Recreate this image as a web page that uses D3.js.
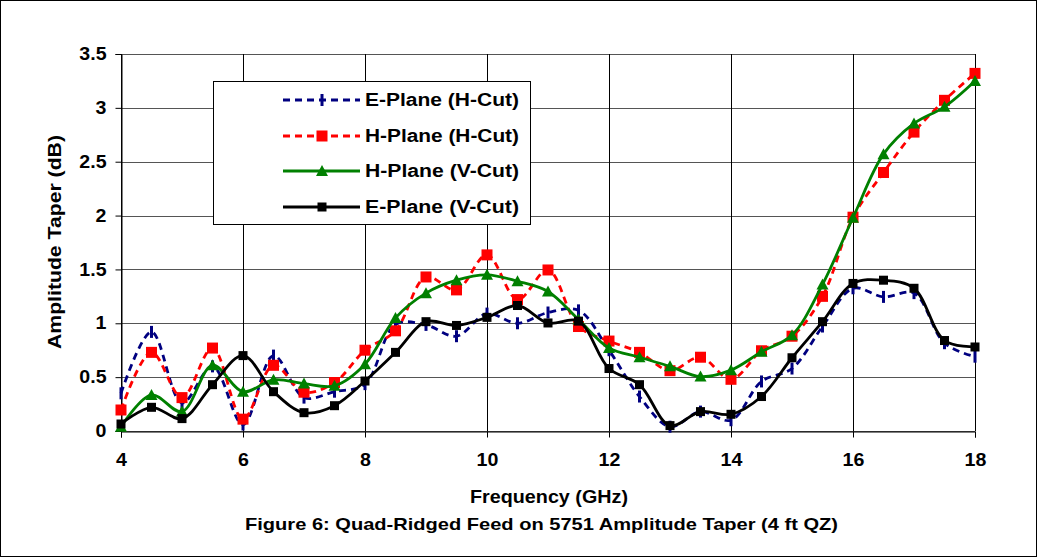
<!DOCTYPE html>
<html><head><meta charset="utf-8">
<script src="https://cdn.jsdelivr.net/npm/d3@7"></script>
<style>
html,body{margin:0;padding:0;background:#fff;}
svg{display:block;font-family:"Liberation Sans",Arial,sans-serif;}
</style></head>
<body><svg id="c" width="1038" height="558"></svg>
<script>
const freqs = [4,4.5,5,5.5,6,6.5,7,7.5,8,8.5,9,9.5,10,10.5,11,11.5,12,12.5,13,13.5,14,14.5,15,15.5,16,16.5,17,17.5,18];
const ePlaneHCut = [0.35,0.92,0.26,0.6,0.06,0.70,0.31,0.365,0.435,0.99,0.985,0.88,1.09,1.0,1.10,1.12,0.75,0.32,0.04,0.18,0.10,0.46,0.58,0.97,1.325,1.245,1.28,0.815,0.69];
const hPlaneHCut = [0.195,0.73,0.31,0.77,0.11,0.61,0.36,0.45,0.75,0.93,1.43,1.31,1.635,1.22,1.495,0.97,0.835,0.73,0.56,0.685,0.48,0.745,0.88,1.25,1.985,2.40,2.775,3.07,3.32];
const hPlaneVCut = [0.04,0.335,0.18,0.61,0.365,0.475,0.44,0.42,0.62,1.05,1.28,1.40,1.45,1.39,1.295,1.035,0.77,0.685,0.60,0.505,0.565,0.735,0.89,1.36,1.98,2.57,2.855,3.01,3.25];
const ePlaneVCut = [0.065,0.22,0.115,0.43,0.70,0.365,0.17,0.235,0.464,0.73,1.015,0.98,1.055,1.165,1.003,1.02,0.58,0.43,0.05,0.18,0.155,0.32,0.68,1.015,1.37,1.40,1.325,0.84,0.78];
const xTicks = [4,6,8,10,12,14,16,18];
const yTicks = [0,0.5,1,1.5,2,2.5,3,3.5];
const seriesNames = ["E-Plane (H-Cut)","H-Plane (H-Cut)","H-Plane (V-Cut)","E-Plane (V-Cut)"];
const xTitle = "Frequency (GHz)";
const yTitle = "Amplitude Taper (dB)";
const caption = "Figure 6: Quad-Ridged Feed on 5751 Amplitude Taper (4 ft QZ)";

const series = [
  {name:seriesNames[0], values:ePlaneHCut, color:"#000080", dash:"7,5", marker:"dash"},
  {name:seriesNames[1], values:hPlaneHCut, color:"#ff0000", dash:"7,5", marker:"bigsquare"},
  {name:seriesNames[2], values:hPlaneVCut, color:"#008000", dash:null, marker:"triangle"},
  {name:seriesNames[3], values:ePlaneVCut, color:"#000000", dash:null, marker:"square"}
];

const svg = d3.select("#c");
const L=121, R=975, T=54, B=431;
const x = d3.scaleLinear().domain([4,18]).range([L,R]);
const y = d3.scaleLinear().domain([0,3.5]).range([B,T]);

function stretch(sel, f){
  sel.each(function(){
    const w = this.getComputedTextLength();
    this.setAttribute("textLength", (w*f).toFixed(1));
    this.setAttribute("lengthAdjust","spacingAndGlyphs");
  });
}
function fitLen(sel, len){
  sel.attr("textLength",len).attr("lengthAdjust","spacingAndGlyphs");
}

// outer frame
svg.append("rect").attr("x",0.5).attr("y",0.5).attr("width",1036).attr("height",556)
  .attr("fill","none").attr("stroke","#000").attr("stroke-width",1);

// horizontal gridlines
svg.append("g").selectAll("line").data(yTicks).join("line")
  .attr("x1",L).attr("x2",R).attr("y1",d=>Math.round(y(d))+0.5).attr("y2",d=>Math.round(y(d))+0.5)
  .attr("stroke","#555").attr("stroke-width",1.2);
// vertical gridlines
svg.append("g").selectAll("line").data(xTicks).join("line")
  .attr("y1",T).attr("y2",B).attr("x1",d=>Math.round(x(d))+0.5).attr("x2",d=>Math.round(x(d))+0.5)
  .attr("stroke","#000").attr("stroke-width",1);

// axes
const yAxis = d3.axisLeft(y).tickValues(yTicks).tickSize(6).tickPadding(9).tickFormat(d=>String(d));
const gy = svg.append("g").attr("transform",`translate(${L+0.5},0)`).call(yAxis);
const xAxis = d3.axisBottom(x).tickValues(xTicks).tickSize(6).tickPadding(16).tickFormat(d=>String(d));
const gx = svg.append("g").attr("transform",`translate(0,${B+0.5})`).call(xAxis);
[gx,gy].forEach(g=>{
  g.select(".domain").attr("stroke","#000").attr("stroke-width",1);
  g.selectAll(".tick line").attr("stroke","#000");
  g.selectAll("text").attr("font-size",17.5).attr("font-weight","bold").attr("fill","#000")
   .attr("font-family","'Liberation Sans',Arial,sans-serif");
  stretch(g.selectAll("text"),1.12);
});

// titles
fitLen(svg.append("text").attr("x",549).attr("y",503).attr("text-anchor","middle")
  .attr("font-size",17.5).attr("font-weight","bold").text(xTitle),158);
fitLen(svg.append("text").attr("x",541.5).attr("y",530).attr("text-anchor","middle")
  .attr("font-size",17).attr("font-weight","bold").text(caption),593);
fitLen(svg.append("text").attr("transform",`translate(61,242) rotate(-90)`).attr("text-anchor","middle")
  .attr("font-size",17.5).attr("font-weight","bold").text(yTitle),214);

// lines
const line = d3.line().x((d,i)=>x(freqs[i])).y(d=>y(d)).curve(d3.curveCatmullRom.alpha(0.5));

function drawMarker(g, type, cx, cy, color){
  if(type==="dash"){
    g.append("line").attr("x1",cx).attr("x2",cx).attr("y1",cy-6).attr("y2",cy+6)
      .attr("stroke",color).attr("stroke-width",3);
  } else if(type==="bigsquare"){
    g.append("rect").attr("x",cx-5.5).attr("y",cy-5.5).attr("width",11).attr("height",11).attr("fill",color);
  } else if(type==="square"){
    g.append("rect").attr("x",cx-4.5).attr("y",cy-4.5).attr("width",9).attr("height",9).attr("fill",color);
  } else if(type==="triangle"){
    g.append("path").attr("d",`M${cx},${cy-6}L${cx+6},${cy+5}L${cx-6},${cy+5}Z`).attr("fill",color);
  }
}

series.forEach(s=>{
  const g = svg.append("g");
  g.append("path").datum(s.values).attr("d",line).attr("fill","none")
    .attr("stroke",s.color).attr("stroke-width",2.8)
    .attr("stroke-dasharray",s.dash);
  s.values.forEach((v,i)=>drawMarker(g,s.marker,x(freqs[i]),y(v),s.color));
});

// legend
const lg = svg.append("g");
lg.append("rect").attr("x",213.5).attr("y",81.5).attr("width",317).attr("height",143)
  .attr("fill","#fff").attr("stroke","#000").attr("stroke-width",1);
const rows=[100,136,171,207];
series.forEach((s,i)=>{
  const ry=rows[i];
  lg.append("line").attr("x1",283).attr("x2",360).attr("y1",ry).attr("y2",ry)
    .attr("stroke",s.color).attr("stroke-width",2.8).attr("stroke-dasharray",s.dash);
  drawMarker(lg,s.marker,322,ry,s.color);
  fitLen(lg.append("text").attr("x",365).attr("y",ry+6).attr("font-size",17.5).attr("font-weight","bold")
    .text(s.name),154);
});
</script></body></html>
